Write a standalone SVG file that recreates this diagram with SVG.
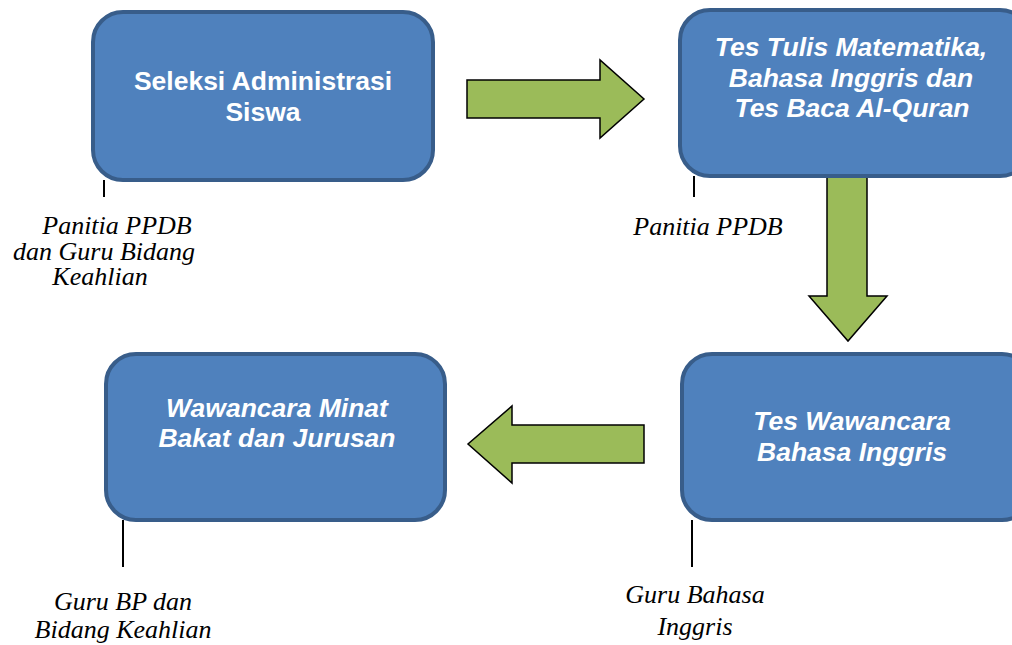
<svg xmlns="http://www.w3.org/2000/svg" width="1012" height="645" viewBox="0 0 1012 645">
<style>
.box{fill:#4f81bd;stroke:#385d8a;stroke-width:4}
.arrow{fill:#9bbb59;stroke:#000;stroke-width:1.5;stroke-linejoin:miter}
.tick{stroke:#000;stroke-width:2}
.t{font-family:"Liberation Sans",Arial,sans-serif;font-weight:bold;font-size:26.5px;fill:#fff;text-anchor:middle}
.ti{font-style:italic}
.lbl{font-family:"Liberation Serif","Times New Roman",serif;font-style:italic;font-size:26px;fill:#000;text-anchor:middle}
</style>
<rect width="1012" height="645" fill="#fff"/>
<g id="connectors">
<polygon class="arrow" points="467,80 600,80 600,60 644,99 600,138 600,118 467,118"/>
<polygon class="arrow" points="827,164 867,164 867,296 887,296 848,341 809,296 827,296"/>
<polygon class="arrow" points="644,425 512,425 512,406 468,444 512,483 512,463 644,463"/>
<line class="tick" x1="104" y1="180" x2="104" y2="197"/>
<line class="tick" x1="694" y1="176" x2="694" y2="197"/>
<line class="tick" x1="123" y1="520" x2="123" y2="567"/>
<line class="tick" x1="692" y1="520" x2="692" y2="567"/>
</g>
<g id="node1">
<rect class="box" x="93" y="12" width="340" height="168" rx="30"/>
<text class="t" x="263" y="90">Seleksi Administrasi</text>
<text class="t" x="263" y="121">Siswa</text>
</g>
<g id="node2">
<rect class="box" x="680" y="10" width="350" height="166" rx="30"/>
<text class="t ti" x="851" y="56">Tes Tulis Matematika,</text>
<text class="t ti" x="851" y="87">Bahasa Inggris dan</text>
<text class="t ti" x="852" y="117">Tes Baca Al-Quran</text>
</g>
<g id="node3">
<rect class="box" x="682" y="354" width="350" height="166" rx="30"/>
<text class="t ti" x="852" y="430">Tes Wawancara</text>
<text class="t ti" x="852" y="461">Bahasa Inggris</text>
</g>
<g id="node4">
<rect class="box" x="106" y="354" width="339" height="166" rx="30"/>
<text class="t ti" x="277" y="417">Wawancara Minat</text>
<text class="t ti" x="277" y="447">Bakat dan Jurusan</text>
</g>
<g id="label1">
<text class="lbl" x="117" y="234">Panitia PPDB</text>
<text class="lbl" x="104" y="260">dan Guru Bidang</text>
<text class="lbl" x="100" y="285">Keahlian</text>
</g>
<g id="label2">
<text class="lbl" x="708" y="235">Panitia PPDB</text>
</g>
<g id="label3">
<text class="lbl" x="695" y="603">Guru Bahasa</text>
<text class="lbl" x="695" y="635">Inggris</text>
</g>
<g id="label4">
<text class="lbl" x="123" y="610">Guru BP dan</text>
<text class="lbl" x="123" y="638">Bidang Keahlian</text>
</g>
</svg>
